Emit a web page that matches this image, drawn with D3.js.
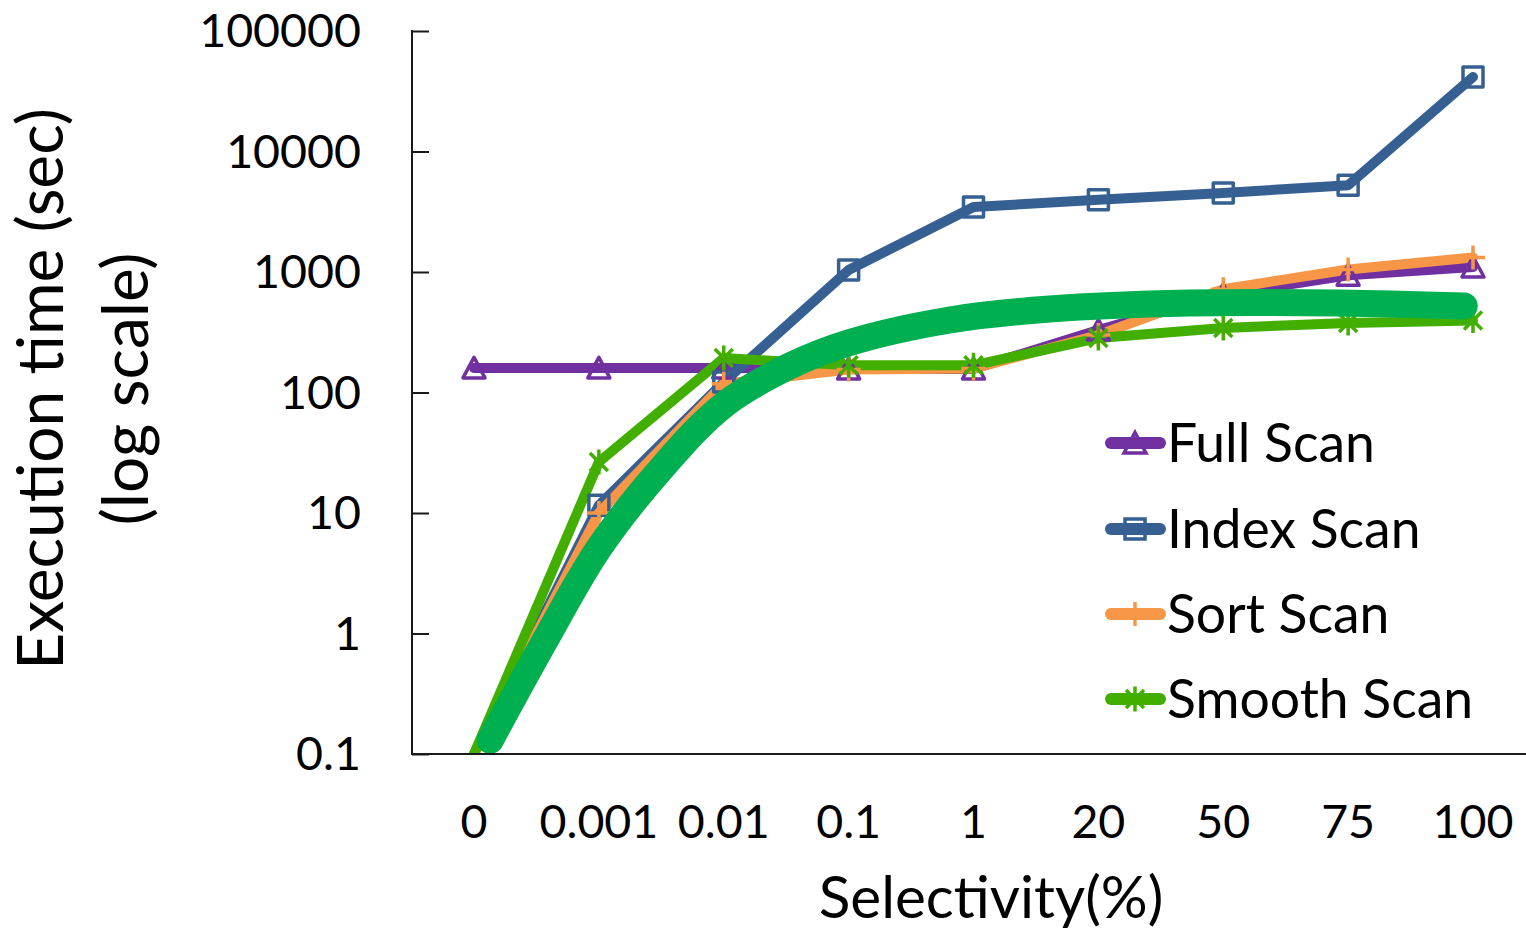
<!DOCTYPE html>
<html>
<head>
<meta charset="utf-8">
<script src="https://cdn.jsdelivr.net/npm/d3@7"></script>
<style>
  html, body { margin: 0; padding: 0; background: #fff; }
  svg { display: block; }
  text { font-family: "Lato", "Open Sans", sans-serif; fill: #000; }
</style>
</head>
<body>
<svg id="chart" width="1526" height="929"></svg>
<script>
// ---------------- data ----------------
const categories = ["0", "0.001", "0.01", "0.1", "1", "20", "50", "75", "100"];
const fullScan   = [160, 160, 160, 157, 157, 330, 650, 940, 1100];
const indexScan  = [0.1, 11.6, 122, 1040, 3460, 3980, 4530, 5250, 41500];
const sortScan   = [0.1, 10, 118, 155, 158, 300, 720, 1050, 1320];
const smoothScan = [0.1, 26.5, 193, 168, 168, 283, 343, 378, 395];
// thick trend curve (position along categories as fractional index, value)
const trendIdx = [0.13, 0.57, 1.0, 1.49, 2.0, 2.53, 3.0, 3.81, 4.61, 5.73, 6.93, 7.93];
const trendVal = [0.13, 0.88, 5.1, 22.7, 78.7, 166, 258, 400, 493, 553, 553, 522];
const yTicks = [0.1, 1, 10, 100, 1000, 10000, 100000];
const yTickLabels = ["0.1", "1", "10", "100", "1000", "10000", "100000"];
const seriesNames = ["Full Scan", "Index Scan", "Sort Scan", "Smooth Scan"];
const seriesColors = ["#7030A0", "#376092", "#F79646", "#42AF00"];
const trendColor = "#00B050";

// ---------------- layout ----------------
const svg = d3.select("#chart");
const plotLeft = 412, plotRight = 1526, plotTop = 31, plotBottom = 754;

const x = d3.scalePoint().domain(categories).range([474, 1473]);
const xi = d3.scaleLinear().domain([0, categories.length - 1]).range([474, 1473]);
const y = d3.scaleLog().domain([0.1, 100000]).range([plotBottom, plotTop]);

svg.append("defs").append("clipPath").attr("id", "plotClip")
  .append("rect").attr("x", plotLeft).attr("y", 0).attr("width", plotRight - plotLeft).attr("height", plotBottom);

// axes
const yAxis = d3.axisRight(y).tickValues(yTicks).tickSize(17).tickFormat(() => "");
const gy = svg.append("g").attr("transform", `translate(${plotLeft},0)`).call(yAxis);
gy.select(".domain").remove();
gy.selectAll(".tick line").attr("stroke", "#1a1a1a").attr("stroke-width", 2);

// y tick labels
svg.append("g").selectAll("text").data(yTicks).join("text")
  .attr("x", 361).attr("y", d => y(d)).attr("dy", "0.35em")
  .attr("text-anchor", "end").attr("font-size", 46.5)
  .text((d, i) => yTickLabels[i]);

// x tick labels
svg.append("g").selectAll("text").data(categories).join("text")
  .attr("x", d => x(d)).attr("y", 838)
  .attr("text-anchor", "middle").attr("font-size", 46.5)
  .text(d => d);

// axis titles
svg.append("text").attr("x", 991).attr("y", 918).attr("text-anchor", "middle")
  .attr("font-size", 58.5).text("Selectivity(%)");
const yt = svg.append("g").attr("transform", "translate(0,389) rotate(-90)");
yt.append("text").attr("x", 0).attr("y", 63).attr("text-anchor", "middle").attr("font-size", 64)
  .text("Execution time (sec)");
yt.append("text").attr("x", 0).attr("y", 148).attr("text-anchor", "middle").attr("font-size", 64)
  .text("(log scale)");

// markers
const markerPaths = [
  "M0,-10.5L11,10L-11,10Z",
  "M-10,-10H10V10H-10Z",
  "M-12,0H12M0,-12V12",
  "M-9,-9L9,9M-9,9L9,-9M0,-12.5V12.5"
];
const markerStroke = [3.5, 3.5, 3.5, 3.5];

const allSeries = [fullScan, indexScan, sortScan, smoothScan];
const line = d3.line().x((d, i) => x(categories[i])).y(d => y(d));

const plot = svg.append("g").attr("clip-path", "url(#plotClip)");
allSeries.forEach((vals, s) => {
  plot.append("path").attr("d", line(vals)).attr("fill", "none")
    .attr("stroke", seriesColors[s]).attr("stroke-width", 10)
    .attr("stroke-linejoin", "round").attr("stroke-linecap", "round");
  // markers are not drawn for points sitting at/below the axis minimum (clipped)
  const pts = vals.map((v, i) => ({v, i})).filter(p => p.v > y.domain()[0]);
  svg.append("g").selectAll("path").data(pts).join("path")
    .attr("transform", p => `translate(${x(categories[p.i])},${y(p.v)})`)
    .attr("d", markerPaths[s]).attr("fill", "none")
    .attr("stroke", seriesColors[s]).attr("stroke-width", markerStroke[s])
    .attr("stroke-linejoin", "round");
});

// thick trend curve
const trendLine = d3.line().x((d, i) => xi(trendIdx[i])).y(d => y(d)).curve(d3.curveCatmullRom.alpha(0.5));
svg.append("path").attr("d", trendLine(trendVal)).attr("fill", "none")
  .attr("stroke", trendColor).attr("stroke-width", 27)
  .attr("stroke-linecap", "round").attr("stroke-linejoin", "round");

// axis lines
svg.append("line").attr("x1", plotLeft).attr("x2", plotLeft).attr("y1", plotTop - 1).attr("y2", plotBottom + 1)
  .attr("stroke", "#1a1a1a").attr("stroke-width", 2);
svg.append("line").attr("x1", plotLeft).attr("x2", plotRight).attr("y1", plotBottom).attr("y2", plotBottom)
  .attr("stroke", "#1a1a1a").attr("stroke-width", 2);

// legend
const legendY = [443, 529, 614, 699];
const lg = svg.append("g");
seriesNames.forEach((name, s) => {
  const g = lg.append("g").attr("transform", `translate(0,${legendY[s]})`);
  g.append("line").attr("x1", 1111).attr("x2", 1160).attr("y1", 0).attr("y2", 0)
    .attr("stroke", seriesColors[s]).attr("stroke-width", 12).attr("stroke-linecap", "round");
  g.append("path").attr("transform", "translate(1135,0)").attr("d", markerPaths[s])
    .attr("fill", "none").attr("stroke", seriesColors[s]).attr("stroke-width", markerStroke[s]);
  g.append("text").attr("x", 1167).attr("y", 0).attr("dy", "0.36em")
    .attr("font-size", 53.5).text(name);
});
</script>
</body>
</html>
